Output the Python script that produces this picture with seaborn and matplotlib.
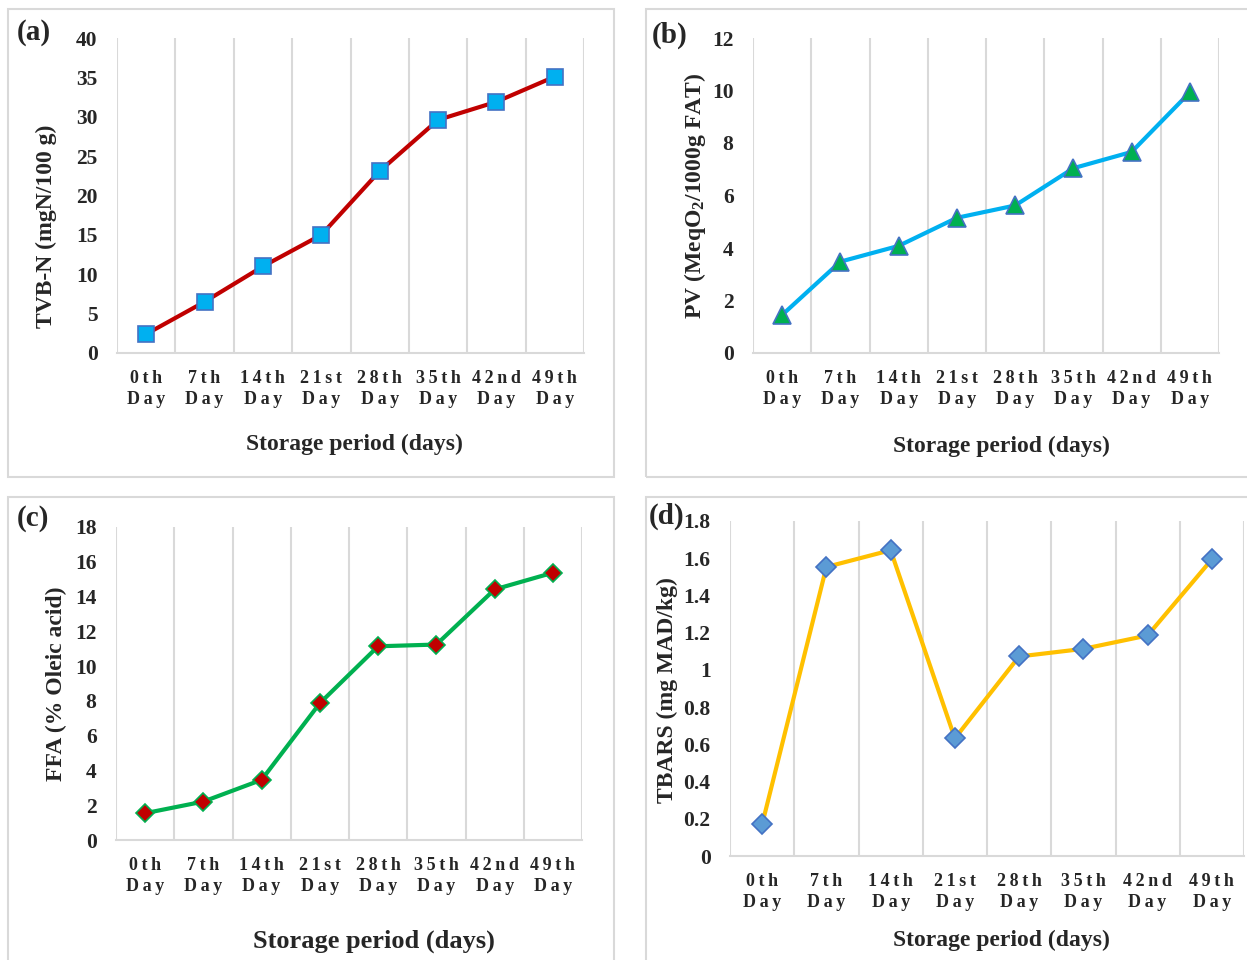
import matplotlib
matplotlib.use("Agg")
import matplotlib.pyplot as plt
import seaborn as sns
from matplotlib.patches import Rectangle
from matplotlib.ticker import FuncFormatter

# Data
DAYS = ["0th Day", "7th Day", "14th Day", "21st Day",
        "28th Day", "35th Day", "42nd Day", "49th Day"]
TVBN = [2.4, 6.5, 11.0, 15.0, 23.1, 29.6, 31.9, 35.1]
PV = [1.45, 3.48, 4.08, 5.15, 5.62, 7.04, 7.66, 9.93]
FFA = [1.54, 2.21, 3.46, 7.87, 11.14, 11.24, 14.41, 15.37]
TBARS = [0.17, 1.553, 1.643, 0.632, 1.072, 1.113, 1.185, 1.594]

sns.set_style("white")
plt.rcParams["font.family"] = ["Liberation Serif", "DejaVu Serif"]
plt.rcParams["font.weight"] = "bold"
plt.rcParams["mathtext.fontset"] = "custom"
plt.rcParams["mathtext.rm"] = "Liberation Serif:bold"
plt.rcParams["mathtext.bf"] = "Liberation Serif:bold"
plt.rcParams["mathtext.it"] = "Liberation Serif:bold"

GRID = "#d9d9d9"
W, H = 1247, 960


def spaced(label):
    # Excel-like letter spacing on the category labels
    return "\n".join("\u2009".join(word) for word in label.split(" "))


def px_axes(left, top, right, bottom):
    return [left / W, 1 - bottom / H, (right - left) / W, (bottom - top) / H]


fig = plt.figure(figsize=(12.47, 9.6), dpi=100)

# panel frames
for (x0, y0, x1, y1) in [(8, 9, 614, 477), (646, 9, 1252, 477),
                         (8, 497, 614, 968), (646, 497, 1252, 968)]:
    fig.patches.append(Rectangle((x0 / W, 1 - y1 / H), (x1 - x0) / W, (y1 - y0) / H,
                                 transform=fig.transFigure, fill=False,
                                 edgecolor=GRID, linewidth=1.5))

panels = [
    dict(vals=TVBN, box=(117, 38, 584, 353), ylim=(0, 40), step=5,
         ylabel="TVB-N (mgN/100 g)", color="#C00000", marker="s", ms=11,
         mfc="#00B0F0", mec="#4472C4", tag="(a)", tagpos=(17, 33),
         ylab=(-0.152, 0.403), xlab=(0.508, -0.289), xls=17),
    dict(vals=PV, box=(753, 38, 1219, 353), ylim=(0, 12), step=2,
         ylabel=r"PV (MeqO$_2$/1000g FAT)", color="#00B0F0", marker="^", ms=13,
         mfc="#00B050", mec="#4472C4", tag="(b)", tagpos=(652, 35),
         ylab=(-0.124, 0.498), xlab=(0.534, -0.295), xls=17),
    dict(vals=FFA, box=(116, 527, 582, 840), ylim=(0, 18), step=2,
         ylabel="FFA (% Oleic acid)", color="#00B050", marker="D", ms=9,
         mfc="#C00000", mec="#00B050", tag="(c)", tagpos=(17, 518),
         ylab=(-0.127, 0.50), xlab=(0.554, -0.323), xls=19),
    dict(vals=TBARS, box=(730, 521, 1244, 856), ylim=(0, 1.8), step=0.2,
         ylabel="TBARS (mg MAD/kg)", color="#FFC000", marker="D", ms=10,
         mfc="#5B9BD5", mec="#4472C4", tag="(d)", tagpos=(649, 516),
         ylab=(-0.121, 0.496), xlab=(0.529, -0.251), xls=17),
]

for p in panels:
    ax = fig.add_axes(px_axes(*p["box"]))
    sns.lineplot(x=DAYS, y=p["vals"], ax=ax, sort=False, color=p["color"],
                 linewidth=3, marker=p["marker"], markersize=p["ms"],
                 markerfacecolor=p["mfc"], markeredgecolor=p["mec"],
                 markeredgewidth=1.2)
    n = len(DAYS)
    ax.set_xlim(-0.5, n - 0.5)
    ax.set_ylim(*p["ylim"])
    lo, hi = p["ylim"]
    ticks = [round(lo + i * p["step"], 2) for i in range(int(round((hi - lo) / p["step"])) + 1)]
    ax.set_yticks(ticks)
    ax.yaxis.set_major_formatter(FuncFormatter(lambda v, _: f"{v:g}"))
    ax.set_xticks(range(n))
    ax.set_xticklabels([spaced(d) for d in DAYS], linespacing=1.3)
    ax.set_xticks([i - 0.5 for i in range(n + 1)], minor=True)
    ax.grid(False)
    ax.grid(True, which="minor", axis="x", color=GRID, linewidth=1.5)
    ax.tick_params(axis="both", which="both", length=0)
    ax.tick_params(axis="x", pad=12, labelsize=13)
    ax.tick_params(axis="y", pad=14, labelsize=15.5)
    for s in ["left", "right", "top"]:
        ax.spines[s].set_visible(False)
    ax.spines["bottom"].set_color(GRID)
    ax.spines["bottom"].set_linewidth(1.5)

    ax.set_ylabel(p["ylabel"], fontsize=17, fontweight="bold")
    ax.yaxis.set_label_coords(*p["ylab"])
    ax.yaxis.label.set_va("center")
    ax.set_xlabel("Storage period (days)", fontsize=p["xls"], fontweight="bold")
    ax.xaxis.set_label_coords(*p["xlab"])
    ax.xaxis.label.set_va("center")

    fig.text(p["tagpos"][0] / W, 1 - p["tagpos"][1] / H, p["tag"],
             fontsize=21, fontweight="bold", va="center", ha="left")

fig.savefig("out.png", dpi=100)
